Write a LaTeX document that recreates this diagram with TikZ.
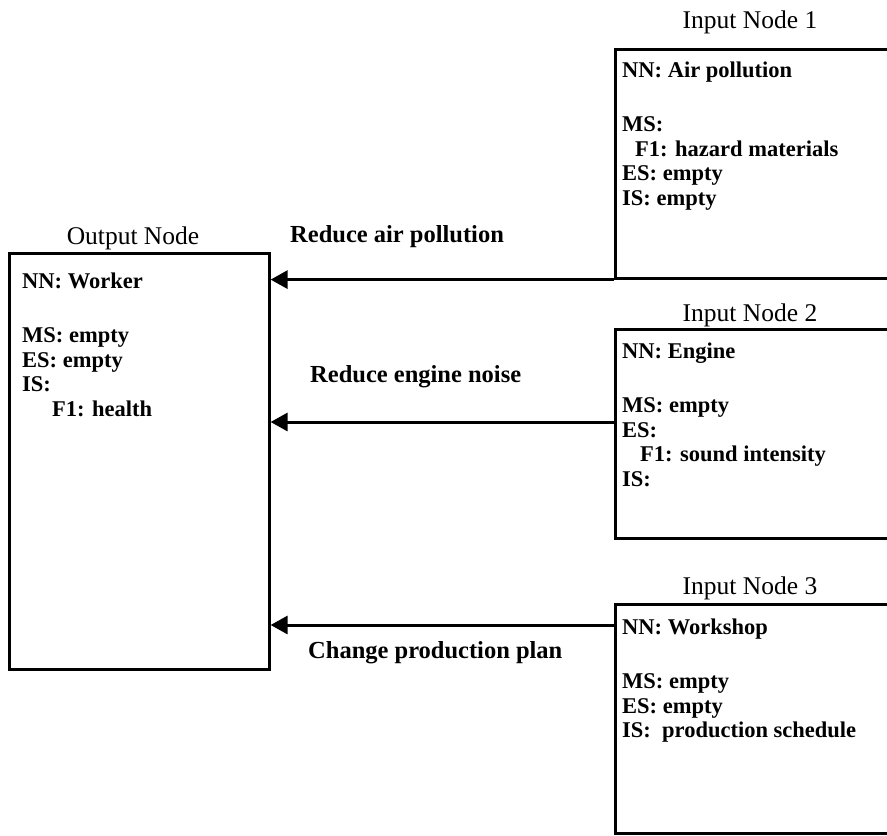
\documentclass[tikz,border=0pt]{standalone}
\usepackage{fontspec}
\setmainfont{Liberation Serif}
\usetikzlibrary{arrows.meta}
\begin{document}
\begin{tikzpicture}[x=1pt,y=-1pt,
  box/.style={draw, line width=2.6pt, rectangle, inner sep=0pt, anchor=north west},
  content/.style={anchor=north west, inner sep=0pt, align=left,
    font=\fontsize{22.5}{24.5}\selectfont\bfseries},
  title/.style={inner sep=0pt, font=\fontsize{25.5}{28}\selectfont},
  flowlabel/.style={anchor=west, inner sep=0pt, font=\fontsize{24.5}{28}\selectfont\bfseries},
  link/.style={line width=3pt, -{Triangle[length=17pt,width=18pt]}}
]
\clip (0,0) rectangle (887,836);

% frames (input frames run past the right edge)
\node[box, minimum width=260pt, minimum height=416pt] (out) at (8,252) {};
\node[box, minimum width=290pt, minimum height=229pt] (in1) at (614,48) {};
\node[box, minimum width=290pt, minimum height=209pt] (in2) at (614,328) {};
\node[box, minimum width=290pt, minimum height=229pt] (in3) at (614,603) {};

% headings
\node[title] (outT) at (133,238) {Output Node};
\node[title] (in1T) at (750,22) {Input Node 1};
\node[title] (in2T) at (750,315) {Input Node 2};
\node[title] (in3T) at (750,588) {Input Node 3};

% frame contents
\node[content] (outC) at (22,273) {NN: Worker\\[29.5pt] MS: empty\\ ES: empty\\ IS:\\ \hspace*{30pt}F1: health};
\node[content] (in1C) at (622,62) {NN: Air pollution\\[29.5pt] MS:\\ \hspace*{13pt}F1: hazard materials\\ ES: empty\\ IS: empty};
\node[content] (in2C) at (622,343) {NN: Engine\\[29.5pt] MS: empty\\ ES:\\ \hspace*{18pt}F1: sound intensity\\ IS:};
\node[content] (in3C) at (622,619) {NN: Workshop\\[29.5pt] MS: empty\\ ES: empty\\ IS:\ \ production schedule};

% connectors
\coordinate (a1) at (in1.south west);
\coordinate (a2) at (614,422);
\coordinate (a3) at (614,625);
\draw[link] (a1) -- (out.east |- a1);
\draw[link] (a2) -- (out.east |- a2);
\draw[link] (a3) -- (out.east |- a3);

% connector labels
\node[flowlabel] (l1) at (290,237) {Reduce air pollution};
\node[flowlabel] (l2) at (310,377) {Reduce engine noise};
\node[flowlabel] (l3) at (308,653) {Change production plan};
\end{tikzpicture}
\end{document}
